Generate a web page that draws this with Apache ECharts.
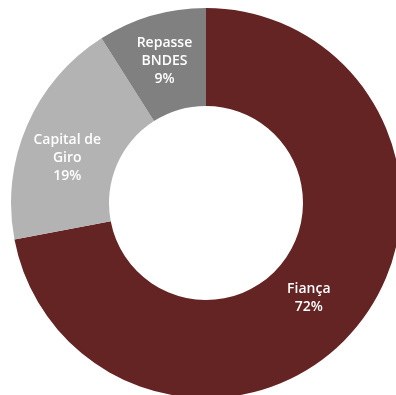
<!DOCTYPE html>
<html>
<head>
<meta charset="utf-8">
<script src="https://cdn.jsdelivr.net/npm/echarts@6/dist/echarts.min.js"></script>
<style>
  html, body { margin: 0; padding: 0; background: #fff; }
  #chart { width: 396px; height: 395px; }
</style>
</head>
<body>
<div id="chart"></div>
<script>
// Composition of the portfolio, in percent
const categories = ['Fiança', 'Capital de Giro', 'Repasse BNDES'];
const labelLines = ['Fiança', 'Capital de\nGiro', 'Repasse\nBNDES'];
const shares = [72, 19, 9];
const colors = ['#632423', '#b3b3b3', '#808080'];

const chart = echarts.init(document.getElementById('chart'), null, { renderer: 'canvas' });

chart.setOption({
  animation: false,
  backgroundColor: '#ffffff',
  series: [{
    type: 'pie',
    center: [206, 203],
    radius: [97, 195],
    startAngle: 90,
    clockwise: true,
    avoidLabelOverlap: false,
    itemStyle: { borderWidth: 0 },
    label: {
      show: true,
      position: 'inside',
      color: '#ffffff',
      fontFamily: '"Open Sans", "Noto Sans", sans-serif',
      fontSize: 14,
      fontWeight: 600,
      lineHeight: 18,
      align: 'center',
      formatter: (p) => labelLines[p.dataIndex] + '\n' + p.value + '%'
    },
    labelLine: { show: false },
    emphasis: { disabled: true },
    data: categories.map((name, i) => ({
      name: name,
      value: shares[i],
      itemStyle: { color: colors[i] },
      label: i === 1 ? { offset: [-2, 14] } : (i === 0 ? { offset: [-12, 0] } : { offset: [0, 1] })
    }))
  }]
});
</script>
</body>
</html>
